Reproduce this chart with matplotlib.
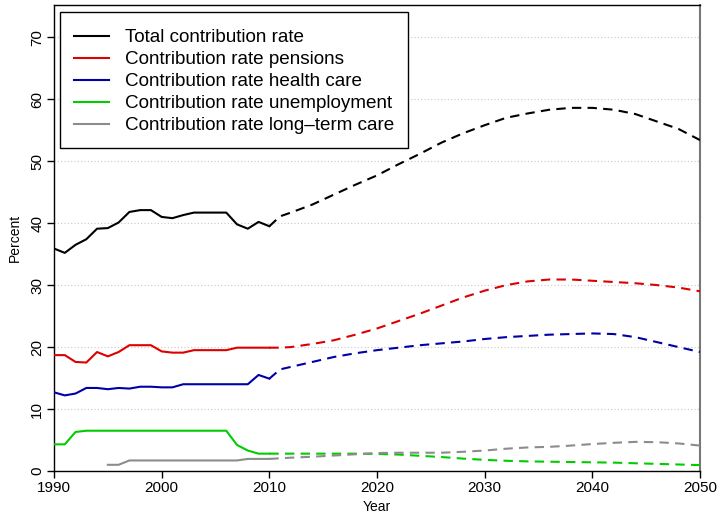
import matplotlib
matplotlib.use("Agg")
import matplotlib.pyplot as plt
from matplotlib.patches import Rectangle

plt.rcParams['font.family'] = ['Liberation Sans', 'DejaVu Sans']

# Observed contribution rates, 1990-2010
hist_years = list(range(1990, 2011))
hist_total = [35.9, 35.2, 36.5, 37.4, 39.1, 39.2, 40.1, 41.8, 42.1, 42.1, 41.0,
              40.8, 41.3, 41.7, 41.7, 41.7, 41.7, 39.8, 39.1, 40.2, 39.5]
hist_pension = [18.7, 18.7, 17.6, 17.5, 19.2, 18.5, 19.2, 20.3, 20.3, 20.3, 19.3,
                19.1, 19.1, 19.5, 19.5, 19.5, 19.5, 19.9, 19.9, 19.9, 19.9]
hist_health = [12.7, 12.2, 12.5, 13.4, 13.4, 13.2, 13.4, 13.3, 13.6, 13.6, 13.5,
               13.5, 14.0, 14.0, 14.0, 14.0, 14.0, 14.0, 14.0, 15.5, 14.9]
hist_unemp = [4.3, 4.3, 6.3, 6.5, 6.5, 6.5, 6.5, 6.5, 6.5, 6.5, 6.5,
              6.5, 6.5, 6.5, 6.5, 6.5, 6.5, 4.2, 3.3, 2.8, 2.8]
ltc_years = list(range(1995, 2011))
hist_ltc = [1.0, 1.0, 1.7, 1.7, 1.7, 1.7, 1.7, 1.7, 1.7, 1.7, 1.7, 1.7, 1.7,
            1.95, 1.95, 1.95]

# Projected contribution rates, 2010-2050
proj_years = [2010, 2011, 2012, 2014, 2016, 2018, 2020, 2022, 2024, 2026, 2028,
              2030, 2032, 2034, 2036, 2038, 2040, 2042, 2044, 2046, 2048, 2050]
proj_total = [39.5, 41.1, 41.7, 43.0, 44.6, 46.2, 47.7, 49.5, 51.2, 53.0, 54.5,
              55.8, 57.0, 57.7, 58.3, 58.6, 58.6, 58.3, 57.6, 56.4, 55.2, 53.4]
proj_pension = [19.9, 19.9, 20.0, 20.5, 21.1, 22.0, 23.0, 24.2, 25.4, 26.7, 28.0,
                29.1, 30.0, 30.6, 30.9, 30.9, 30.7, 30.5, 30.3, 30.0, 29.6, 29.0]
proj_health = [14.9, 16.4, 16.8, 17.6, 18.4, 19.0, 19.5, 19.9, 20.3, 20.6, 20.9,
               21.3, 21.6, 21.8, 22.0, 22.1, 22.2, 22.1, 21.6, 20.8, 20.0, 19.2]
proj_unemp = [2.8, 2.8, 2.8, 2.8, 2.8, 2.8, 2.75, 2.65, 2.45, 2.25, 2.0,
              1.8, 1.65, 1.55, 1.5, 1.45, 1.4, 1.35, 1.25, 1.15, 1.05, 0.95]
proj_ltc = [1.95, 2.05, 2.15, 2.3, 2.5, 2.7, 2.9, 2.95, 2.95, 2.95, 3.1,
            3.3, 3.6, 3.8, 3.9, 4.1, 4.35, 4.55, 4.7, 4.65, 4.45, 4.1]

labels = ["Total contribution rate", "Contribution rate pensions",
          "Contribution rate health care", "Contribution rate unemployment",
          "Contribution rate long\u2013term care"]
colors = ["#000000", "#DD0000", "#0000A8", "#00CC00", "#8C8C8C"]

W, H = 719, 515
fig = plt.figure(figsize=(W / 100, H / 100), dpi=100)
ax = fig.add_axes([54 / W, 1 - 471 / H, 646 / W, 466 / H])

lw = 1.5
dash = (0, (4.5, 3))
series = [
    (hist_years, hist_total, proj_total),
    (hist_years, hist_pension, proj_pension),
    (hist_years, hist_health, proj_health),
    (hist_years, hist_unemp, proj_unemp),
    (ltc_years, hist_ltc, proj_ltc),
]
handles = []
for (hx, hy, py), c, lab in zip(series, colors, labels):
    h, = ax.plot(hx, hy, color=c, lw=lw, label=lab, zorder=3)
    ax.plot(proj_years, py, color=c, lw=lw, linestyle=dash, zorder=3)
    handles.append(h)

ax.set_xlim(1990, 2050)
ax.set_ylim(0, 75.2)
ax.set_xticks(range(1990, 2051, 10))
ax.set_yticks(range(0, 71, 10))
for lab in ax.get_yticklabels():
    lab.set_rotation(90)
    lab.set_va("center")
ax.tick_params(axis="both", direction="out", length=5, width=1,
               labelsize=11, color="black")
ax.tick_params(axis="y", pad=2)
ax.tick_params(axis="x", pad=2)
ax.grid(axis="y", linestyle=(0, (1, 2)), color="#C8C8C8", lw=0.8)
ax.set_axisbelow(True)

for side in ["left", "bottom", "top"]:
    ax.spines[side].set_color("black")
    ax.spines[side].set_linewidth(1)
ax.spines["right"].set_color("#777777")
ax.spines["right"].set_linewidth(1.5)

ax.set_xlabel("Year", fontsize=10, labelpad=4)
ax.set_ylabel("Percent", fontsize=10, labelpad=6)

# Legend entries, with a plain rectangular frame around them
leg = ax.legend(handles=handles, loc="upper left",
                bbox_to_anchor=(6 / 646, (471 - 15) / 466),
                borderaxespad=0, frameon=False, fontsize=13.6,
                handlelength=1.85, handletextpad=0.85, labelspacing=0.25,
                borderpad=0.75)
leg.set_zorder(6)
frame = Rectangle((60 / W, 1 - 148 / H), 348 / W, 136 / H,
                  transform=fig.transFigure, facecolor="white",
                  edgecolor="black", lw=1, zorder=5)
ax.add_artist(frame)
frame.set_clip_on(False)

fig.savefig("out.png", dpi=100)
